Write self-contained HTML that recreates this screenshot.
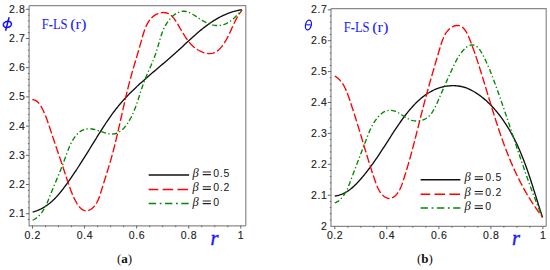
<!DOCTYPE html>
<html><head><meta charset="utf-8">
<style>
html,body{margin:0;padding:0;background:#fff;}
body{width:550px;height:270px;overflow:hidden;position:relative;}
svg{position:absolute;left:0;top:0;}
.tk{font-family:"Liberation Sans",sans-serif;font-size:10.5px;fill:#1a1a1a;letter-spacing:0.6px;stroke:#1a1a1a;stroke-width:0.12px;}
.lb{font-family:"Liberation Sans",sans-serif;font-size:10.5px;fill:#151515;letter-spacing:0.8px;}
.beta{font-family:"Liberation Serif",serif;font-style:italic;font-size:12.5px;fill:#151515;}
.ttl{font-family:"Liberation Serif",serif;font-size:14.6px;fill:#2020ff;stroke:#2020ff;stroke-width:0.06px;}
.ax{font-family:"Liberation Serif",serif;font-style:italic;fill:#1a1aff;}
.cap{font-family:"Liberation Serif",serif;font-size:13px;fill:#111;}
</style></head><body>
<svg width="550" height="270" viewBox="0 0 550 270">
<path d="M29.1,5.7 H245.8 V225.8" fill="none" stroke="#8a8a8a" stroke-width="1.2"/>
<path d="M29.1,5.7 V225.8 H245.8" fill="none" stroke="#8a8a8a" stroke-width="1.2"/>
<path d="M32.50,225.6v3.0 M45.52,225.6v1.6 M58.54,225.6v1.6 M71.56,225.6v1.6 M84.58,225.6v3.0 M97.59,225.6v1.6 M110.61,225.6v1.6 M123.63,225.6v1.6 M136.65,225.6v3.0 M149.67,225.6v1.6 M162.69,225.6v1.6 M175.71,225.6v1.6 M188.73,225.6v3.0 M201.74,225.6v1.6 M214.76,225.6v1.6 M227.78,225.6v1.6 M240.80,225.6v3.0 M29.3,9.30h-3.4 M29.3,15.14h-1.4 M29.3,20.98h-1.4 M29.3,26.82h-1.4 M29.3,32.66h-1.4 M29.3,38.50h-3.4 M29.3,44.34h-1.4 M29.3,50.18h-1.4 M29.3,56.02h-1.4 M29.3,61.86h-1.4 M29.3,67.70h-3.4 M29.3,73.54h-1.4 M29.3,79.38h-1.4 M29.3,85.22h-1.4 M29.3,91.06h-1.4 M29.3,96.90h-3.4 M29.3,102.74h-1.4 M29.3,108.58h-1.4 M29.3,114.42h-1.4 M29.3,120.26h-1.4 M29.3,126.10h-3.4 M29.3,131.94h-1.4 M29.3,137.78h-1.4 M29.3,143.62h-1.4 M29.3,149.46h-1.4 M29.3,155.30h-3.4 M29.3,161.14h-1.4 M29.3,166.98h-1.4 M29.3,172.82h-1.4 M29.3,178.66h-1.4 M29.3,184.50h-3.4 M29.3,190.34h-1.4 M29.3,196.18h-1.4 M29.3,202.02h-1.4 M29.3,207.86h-1.4 M29.3,213.70h-3.4 M29.3,219.54h-1.4" stroke="#666" stroke-width="1" fill="none"/>
<path d="M32.67,212.00 L34.18,211.59 L35.66,211.13 L37.09,210.61 L38.50,210.05 L39.87,209.45 L41.21,208.80 L42.52,208.10 L43.80,207.37 L45.05,206.60 L46.27,205.79 L47.47,204.95 L48.64,204.07 L49.79,203.16 L50.91,202.21 L52.01,201.24 L53.09,200.24 L54.15,199.22 L55.18,198.17 L56.20,197.10 L57.21,196.01 L58.19,194.89 L59.16,193.76 L60.12,192.62 L61.06,191.46 L62.00,190.29 L62.92,189.10 L63.83,187.91 L64.73,186.71 L65.62,185.50 L66.50,184.29 L67.38,183.07 L68.25,181.85 L69.12,180.63 L69.98,179.40 L70.84,178.18 L71.68,176.95 L72.53,175.71 L73.37,174.47 L74.20,173.23 L75.03,171.99 L75.86,170.75 L76.68,169.50 L77.50,168.25 L78.32,167.00 L79.13,165.74 L79.94,164.49 L80.74,163.23 L81.54,161.97 L82.34,160.71 L83.14,159.44 L83.94,158.18 L84.73,156.91 L85.52,155.64 L86.31,154.37 L87.10,153.10 L87.89,151.82 L88.68,150.55 L89.47,149.27 L90.25,147.99 L91.04,146.72 L91.83,145.44 L92.61,144.16 L93.40,142.88 L94.19,141.59 L94.98,140.31 L95.77,139.03 L96.56,137.75 L97.35,136.46 L98.15,135.18 L98.95,133.90 L99.75,132.63 L100.55,131.35 L101.36,130.08 L102.17,128.80 L102.98,127.54 L103.80,126.27 L104.63,125.01 L105.46,123.75 L106.29,122.50 L107.13,121.26 L107.98,120.01 L108.83,118.78 L109.69,117.55 L110.55,116.32 L111.42,115.11 L112.30,113.90 L113.19,112.69 L114.09,111.50 L114.99,110.31 L115.90,109.13 L116.83,107.96 L117.76,106.80 L118.70,105.65 L119.65,104.51 L120.61,103.38 L121.58,102.26 L122.56,101.15 L123.54,100.04 L124.54,98.95 L125.54,97.86 L126.56,96.78 L127.58,95.71 L128.61,94.65 L129.64,93.59 L130.69,92.55 L131.74,91.50 L132.79,90.47 L133.86,89.44 L134.93,88.41 L136.00,87.40 L137.08,86.38 L138.17,85.37 L139.26,84.37 L140.36,83.37 L141.46,82.38 L142.57,81.38 L143.67,80.40 L144.79,79.41 L145.91,78.43 L147.03,77.45 L148.15,76.48 L149.28,75.50 L150.41,74.53 L151.54,73.56 L152.67,72.59 L153.81,71.62 L154.95,70.65 L156.09,69.68 L157.23,68.72 L158.37,67.75 L159.51,66.78 L160.65,65.81 L161.79,64.84 L162.93,63.87 L164.07,62.90 L165.22,61.92 L166.36,60.95 L167.49,59.97 L168.63,58.99 L169.77,58.00 L170.90,57.01 L172.03,56.02 L173.16,55.03 L174.29,54.03 L175.41,53.02 L176.53,52.01 L177.65,51.00 L178.76,49.98 L179.88,48.96 L180.98,47.94 L182.09,46.91 L183.20,45.89 L184.31,44.86 L185.41,43.83 L186.52,42.81 L187.63,41.78 L188.73,40.76 L189.84,39.74 L190.95,38.73 L192.07,37.72 L193.18,36.71 L194.30,35.72 L195.43,34.72 L196.55,33.74 L197.68,32.76 L198.82,31.80 L199.96,30.84 L201.11,29.89 L202.26,28.96 L203.42,28.03 L204.59,27.12 L205.77,26.22 L206.95,25.34 L208.14,24.47 L209.34,23.62 L210.55,22.78 L211.77,21.96 L213.00,21.16 L214.24,20.37 L215.49,19.61 L216.75,18.86 L218.02,18.14 L219.31,17.43 L220.61,16.75 L221.92,16.09 L223.25,15.46 L224.59,14.85 L225.94,14.26 L227.31,13.70 L228.70,13.17 L230.10,12.66 L231.51,12.18 L232.95,11.73 L234.40,11.31 L235.86,10.92 L237.35,10.56 L238.85,10.23 L240.37,9.94 L241.92,9.67" fill="none" stroke="#111" stroke-width="1.35"/>
<path d="M32.37,99.48 L33.96,99.84 L35.38,100.40 L36.65,101.15 L37.78,102.05 L38.80,103.09 L39.71,104.24 L40.55,105.47 L41.31,106.76 L42.02,108.09 L42.70,109.44 L43.35,110.80 L43.97,112.16 L44.57,113.53 L45.15,114.91 L45.71,116.29 L46.25,117.68 L46.77,119.07 L47.28,120.47 L47.77,121.87 L48.26,123.28 L48.74,124.69 L49.21,126.11 L49.68,127.52 L50.15,128.94 L50.61,130.36 L51.08,131.78 L51.55,133.21 L52.02,134.63 L52.50,136.06 L52.97,137.48 L53.45,138.91 L53.93,140.33 L54.41,141.76 L54.89,143.19 L55.37,144.62 L55.85,146.05 L56.34,147.47 L56.82,148.90 L57.30,150.33 L57.79,151.76 L58.27,153.18 L58.75,154.61 L59.24,156.03 L59.72,157.46 L60.20,158.88 L60.68,160.30 L61.16,161.72 L61.64,163.14 L62.12,164.56 L62.59,165.98 L63.07,167.39 L63.54,168.80 L64.01,170.21 L64.48,171.62 L64.94,173.03 L65.40,174.43 L65.86,175.83 L66.32,177.23 L66.78,178.62 L67.23,180.02 L67.69,181.41 L68.15,182.80 L68.62,184.19 L69.10,185.58 L69.59,186.97 L70.09,188.36 L70.61,189.76 L71.14,191.15 L71.70,192.55 L72.28,193.95 L72.88,195.35 L73.51,196.76 L74.17,198.17 L74.86,199.58 L75.58,201.00 L76.34,202.41 L77.15,203.79 L78.01,205.11 L78.94,206.35 L79.93,207.50 L81.00,208.52 L82.14,209.40 L83.36,210.10 L84.62,210.58 L85.91,210.83 L87.21,210.80 L88.51,210.51 L89.78,209.98 L91.02,209.25 L92.20,208.36 L93.31,207.34 L94.34,206.22 L95.28,205.04 L96.13,203.80 L96.90,202.50 L97.59,201.17 L98.23,199.79 L98.81,198.38 L99.35,196.95 L99.85,195.50 L100.33,194.04 L100.78,192.57 L101.23,191.10 L101.68,189.63 L102.12,188.17 L102.57,186.72 L103.02,185.28 L103.47,183.84 L103.92,182.41 L104.36,180.98 L104.81,179.55 L105.26,178.13 L105.70,176.71 L106.15,175.30 L106.59,173.88 L107.03,172.47 L107.46,171.06 L107.90,169.65 L108.33,168.24 L108.76,166.83 L109.18,165.42 L109.60,164.01 L110.02,162.59 L110.43,161.18 L110.84,159.76 L111.24,158.33 L111.64,156.91 L112.04,155.48 L112.42,154.04 L112.81,152.61 L113.19,151.17 L113.57,149.72 L113.94,148.28 L114.31,146.83 L114.67,145.38 L115.03,143.93 L115.39,142.47 L115.75,141.01 L116.10,139.55 L116.45,138.09 L116.80,136.63 L117.14,135.17 L117.49,133.70 L117.83,132.23 L118.17,130.76 L118.50,129.29 L118.84,127.82 L119.18,126.35 L119.51,124.88 L119.84,123.41 L120.17,121.94 L120.50,120.46 L120.83,118.99 L121.16,117.52 L121.49,116.05 L121.82,114.57 L122.15,113.10 L122.48,111.63 L122.81,110.16 L123.14,108.69 L123.47,107.22 L123.81,105.75 L124.14,104.29 L124.48,102.82 L124.81,101.36 L125.15,99.89 L125.49,98.43 L125.83,96.98 L126.18,95.52 L126.52,94.06 L126.87,92.61 L127.22,91.16 L127.58,89.71 L127.94,88.27 L128.30,86.83 L128.66,85.39 L129.03,83.95 L129.40,82.52 L129.77,81.09 L130.15,79.67 L130.53,78.24 L130.92,76.82 L131.31,75.41 L131.71,74.00 L132.10,72.59 L132.51,71.18 L132.91,69.77 L133.32,68.36 L133.73,66.95 L134.14,65.54 L134.56,64.13 L134.98,62.72 L135.40,61.30 L135.82,59.88 L136.24,58.46 L136.67,57.03 L137.09,55.60 L137.51,54.16 L137.94,52.71 L138.37,51.26 L138.79,49.80 L139.22,48.33 L139.64,46.85 L140.06,45.36 L140.49,43.86 L140.91,42.35 L141.33,40.83 L141.75,39.30 L142.18,37.77 L142.61,36.24 L143.06,34.72 L143.53,33.21 L144.01,31.71 L144.52,30.24 L145.06,28.79 L145.63,27.37 L146.23,25.98 L146.87,24.64 L147.56,23.33 L148.29,22.08 L149.07,20.88 L149.90,19.74 L150.79,18.66 L151.75,17.65 L152.76,16.71 L153.85,15.85 L155.01,15.07 L156.24,14.38 L157.54,13.78 L158.89,13.28 L160.28,12.90 L161.69,12.65 L163.10,12.53 L164.49,12.55 L165.86,12.73 L167.17,13.08 L168.43,13.60 L169.62,14.29 L170.76,15.13 L171.84,16.10 L172.87,17.18 L173.85,18.37 L174.80,19.63 L175.71,20.96 L176.60,22.34 L177.45,23.74 L178.29,25.16 L179.12,26.57 L179.93,27.97 L180.73,29.36 L181.53,30.73 L182.33,32.08 L183.14,33.41 L183.94,34.72 L184.76,36.01 L185.59,37.27 L186.44,38.50 L187.30,39.70 L188.19,40.88 L189.10,42.02 L190.04,43.12 L191.01,44.19 L192.02,45.22 L193.07,46.21 L194.16,47.16 L195.30,48.06 L196.48,48.92 L197.72,49.73 L199.01,50.49 L200.35,51.19 L201.72,51.82 L203.12,52.37 L204.55,52.83 L205.99,53.19 L207.43,53.44 L208.87,53.58 L210.30,53.58 L211.71,53.44 L213.10,53.16 L214.45,52.71 L215.75,52.10 L217.00,51.31 L218.21,50.37 L219.35,49.30 L220.45,48.13 L221.50,46.89 L222.49,45.59 L223.42,44.28 L224.31,42.96 L225.15,41.64 L225.94,40.31 L226.69,38.98 L227.41,37.65 L228.10,36.32 L228.77,34.98 L229.41,33.65 L230.03,32.31 L230.64,30.98 L231.24,29.65 L231.83,28.31 L232.43,26.98 L233.03,25.66 L233.63,24.33 L234.25,23.01 L234.89,21.69 L235.54,20.38 L236.22,19.07 L236.93,17.77 L237.68,16.48 L238.46,15.19 L239.28,13.91 L240.15,12.63 L241.07,11.36 L242.05,10.11" fill="none" stroke="#f00" stroke-width="1.35" stroke-dasharray="8.2 2.6"/>
<path d="M32.67,220.24 L34.05,219.52 L35.35,218.73 L36.57,217.87 L37.72,216.94 L38.81,215.96 L39.83,214.91 L40.79,213.81 L41.70,212.66 L42.56,211.47 L43.37,210.23 L44.13,208.96 L44.86,207.66 L45.55,206.32 L46.21,204.96 L46.85,203.58 L47.46,202.18 L48.05,200.77 L48.63,199.35 L49.19,197.93 L49.75,196.50 L50.31,195.08 L50.87,193.67 L51.43,192.26 L51.99,190.86 L52.56,189.47 L53.13,188.09 L53.70,186.71 L54.27,185.34 L54.84,183.97 L55.41,182.60 L55.98,181.24 L56.55,179.87 L57.12,178.51 L57.68,177.15 L58.25,175.79 L58.81,174.42 L59.38,173.06 L59.93,171.69 L60.49,170.32 L61.04,168.94 L61.59,167.55 L62.13,166.16 L62.67,164.77 L63.21,163.36 L63.74,161.95 L64.26,160.53 L64.78,159.10 L65.29,157.66 L65.81,156.21 L66.33,154.76 L66.85,153.32 L67.39,151.87 L67.94,150.43 L68.51,149.00 L69.10,147.57 L69.71,146.16 L70.35,144.76 L71.02,143.38 L71.72,142.02 L72.46,140.68 L73.24,139.37 L74.07,138.08 L74.93,136.84 L75.85,135.64 L76.81,134.51 L77.83,133.46 L78.90,132.50 L80.02,131.64 L81.19,130.90 L82.42,130.26 L83.68,129.74 L85.00,129.32 L86.35,129.03 L87.73,128.85 L89.15,128.78 L90.59,128.84 L92.06,129.01 L93.56,129.28 L95.07,129.64 L96.60,130.06 L98.14,130.53 L99.69,131.04 L101.25,131.56 L102.80,132.08 L104.34,132.57 L105.88,133.02 L107.39,133.41 L108.88,133.72 L110.34,133.93 L111.77,134.02 L113.16,133.98 L114.50,133.80 L115.81,133.48 L117.07,133.03 L118.30,132.47 L119.48,131.80 L120.62,131.03 L121.73,130.16 L122.79,129.20 L123.82,128.17 L124.81,127.06 L125.77,125.90 L126.68,124.67 L127.57,123.40 L128.41,122.09 L129.23,120.75 L130.00,119.38 L130.75,118.00 L131.46,116.61 L132.14,115.22 L132.79,113.82 L133.41,112.42 L134.01,111.02 L134.58,109.62 L135.13,108.21 L135.66,106.81 L136.17,105.40 L136.67,103.99 L137.16,102.58 L137.63,101.17 L138.09,99.76 L138.55,98.35 L139.00,96.94 L139.45,95.53 L139.89,94.12 L140.34,92.71 L140.79,91.30 L141.24,89.90 L141.70,88.49 L142.17,87.09 L142.66,85.69 L143.15,84.29 L143.66,82.90 L144.19,81.51 L144.73,80.12 L145.29,78.73 L145.86,77.35 L146.44,75.96 L147.03,74.58 L147.63,73.20 L148.23,71.82 L148.84,70.44 L149.45,69.05 L150.06,67.67 L150.66,66.28 L151.26,64.90 L151.86,63.51 L152.45,62.11 L153.03,60.72 L153.60,59.32 L154.15,57.91 L154.69,56.50 L155.22,55.09 L155.72,53.67 L156.21,52.24 L156.67,50.81 L157.11,49.37 L157.54,47.92 L157.96,46.48 L158.37,45.03 L158.77,43.58 L159.18,42.14 L159.59,40.69 L160.00,39.25 L160.43,37.82 L160.88,36.39 L161.35,34.97 L161.84,33.56 L162.35,32.15 L162.90,30.77 L163.49,29.39 L164.11,28.03 L164.78,26.68 L165.50,25.35 L166.26,24.04 L167.08,22.75 L167.97,21.48 L168.91,20.24 L169.90,19.03 L170.95,17.88 L172.04,16.77 L173.18,15.74 L174.35,14.79 L175.56,13.93 L176.80,13.16 L178.06,12.51 L179.34,11.98 L180.64,11.58 L181.95,11.33 L183.26,11.23 L184.58,11.28 L185.91,11.49 L187.23,11.83 L188.56,12.29 L189.90,12.85 L191.23,13.51 L192.57,14.24 L193.92,15.04 L195.27,15.89 L196.62,16.76 L197.98,17.66 L199.35,18.57 L200.72,19.47 L202.09,20.34 L203.47,21.18 L204.86,21.97 L206.25,22.69 L207.65,23.33 L209.06,23.90 L210.46,24.39 L211.87,24.79 L213.28,25.11 L214.68,25.35 L216.08,25.49 L217.48,25.55 L218.87,25.51 L220.26,25.37 L221.63,25.14 L223.00,24.80 L224.35,24.37 L225.69,23.83 L227.02,23.19 L228.33,22.45 L229.61,21.62 L230.88,20.72 L232.12,19.76 L233.34,18.74 L234.53,17.68 L235.69,16.59 L236.81,15.48 L237.90,14.36 L238.95,13.24 L239.97,12.14 L240.94,11.06 L241.86,10.02" fill="none" stroke="#080" stroke-width="1.35" stroke-dasharray="5.1 2.4 1.3 2.5"/>
<path d="M148.7,175.0H189.1" stroke="#111" stroke-width="1.5" stroke-dasharray="none" stroke-dashoffset="0.0"/>
<path d="M148.7,189.5H189.1" stroke="#f00" stroke-width="1.5" stroke-dasharray="10.6 4.3" stroke-dashoffset="1.0"/>
<path d="M148.7,203.4H189.1" stroke="#080" stroke-width="1.5" stroke-dasharray="7.4 3.6 1.8 3.5" stroke-dashoffset="0.0"/>
<text x="192.4" y="176.8" class="beta">&#946;</text>
<path d="M202.7,172.05H210.9M202.7,174.65H210.9" stroke="#222" stroke-width="1.1"/>
<text x="213.2" y="176.8" class="lb">0.5</text>
<text x="192.4" y="191.4" class="beta">&#946;</text>
<path d="M202.7,186.75H210.9M202.7,189.35H210.9" stroke="#222" stroke-width="1.1"/>
<text x="213.2" y="191.4" class="lb">0.2</text>
<text x="192.4" y="205.8" class="beta">&#946;</text>
<path d="M202.7,201.05H210.9M202.7,203.65H210.9" stroke="#222" stroke-width="1.1"/>
<text x="213.2" y="205.8" class="lb">0</text>
<text x="25.5" y="12.8" class="tk" text-anchor="end">2.8</text>
<text x="25.5" y="42.0" class="tk" text-anchor="end">2.7</text>
<text x="25.5" y="71.2" class="tk" text-anchor="end">2.6</text>
<text x="25.5" y="100.4" class="tk" text-anchor="end">2.5</text>
<text x="25.5" y="129.5" class="tk" text-anchor="end">2.4</text>
<text x="25.5" y="158.7" class="tk" text-anchor="end">2.3</text>
<text x="25.5" y="187.9" class="tk" text-anchor="end">2.2</text>
<text x="25.5" y="217.0" class="tk" text-anchor="end">2.1</text>
<text x="32.8" y="238.8" class="tk" text-anchor="middle">0.2</text>
<text x="84.9" y="238.8" class="tk" text-anchor="middle">0.4</text>
<text x="137.0" y="238.8" class="tk" text-anchor="middle">0.6</text>
<text x="189.0" y="238.8" class="tk" text-anchor="middle">0.8</text>
<text x="241.1" y="238.8" class="tk" text-anchor="middle">1</text>
<path d="M331.0,8.6 H546.2 V226.3" fill="none" stroke="#8a8a8a" stroke-width="1.2"/>
<path d="M331.0,8.6 V226.3 H546.2" fill="none" stroke="#8a8a8a" stroke-width="1.2"/>
<path d="M334.80,226.1v3.0 M347.81,226.1v1.6 M360.81,226.1v1.6 M373.82,226.1v1.6 M386.82,226.1v3.0 M399.83,226.1v1.6 M412.84,226.1v1.6 M425.84,226.1v1.6 M438.85,226.1v3.0 M451.86,226.1v1.6 M464.86,226.1v1.6 M477.87,226.1v1.6 M490.88,226.1v3.0 M503.88,226.1v1.6 M516.89,226.1v1.6 M529.89,226.1v1.6 M542.90,226.1v3.0 M331.2,9.80h-3.4 M331.2,15.98h-1.4 M331.2,22.16h-1.4 M331.2,28.34h-1.4 M331.2,34.52h-1.4 M331.2,40.70h-3.4 M331.2,46.88h-1.4 M331.2,53.06h-1.4 M331.2,59.24h-1.4 M331.2,65.42h-1.4 M331.2,71.60h-3.4 M331.2,77.78h-1.4 M331.2,83.96h-1.4 M331.2,90.14h-1.4 M331.2,96.32h-1.4 M331.2,102.50h-3.4 M331.2,108.68h-1.4 M331.2,114.86h-1.4 M331.2,121.04h-1.4 M331.2,127.22h-1.4 M331.2,133.40h-3.4 M331.2,139.58h-1.4 M331.2,145.76h-1.4 M331.2,151.94h-1.4 M331.2,158.12h-1.4 M331.2,164.30h-3.4 M331.2,170.48h-1.4 M331.2,176.66h-1.4 M331.2,182.84h-1.4 M331.2,189.02h-1.4 M331.2,195.20h-3.4 M331.2,201.38h-1.4 M331.2,207.56h-1.4 M331.2,213.74h-1.4 M331.2,219.92h-1.4" stroke="#666" stroke-width="1" fill="none"/>
<path d="M334.72,195.99 L336.25,195.80 L337.74,195.52 L339.19,195.16 L340.61,194.72 L342.00,194.20 L343.35,193.61 L344.68,192.96 L345.97,192.24 L347.24,191.47 L348.48,190.64 L349.69,189.76 L350.88,188.84 L352.04,187.88 L353.18,186.88 L354.30,185.84 L355.39,184.78 L356.47,183.70 L357.52,182.59 L358.56,181.47 L359.59,180.34 L360.59,179.20 L361.59,178.06 L362.57,176.91 L363.53,175.76 L364.48,174.61 L365.42,173.45 L366.35,172.29 L367.26,171.12 L368.17,169.95 L369.06,168.77 L369.95,167.59 L370.82,166.41 L371.69,165.22 L372.55,164.03 L373.40,162.84 L374.24,161.64 L375.08,160.44 L375.91,159.24 L376.73,158.03 L377.55,156.82 L378.37,155.60 L379.18,154.38 L379.99,153.16 L380.79,151.94 L381.59,150.71 L382.39,149.48 L383.19,148.24 L383.99,147.01 L384.79,145.77 L385.58,144.53 L386.38,143.28 L387.18,142.03 L387.98,140.78 L388.79,139.53 L389.59,138.27 L390.40,137.01 L391.22,135.75 L392.04,134.48 L392.86,133.22 L393.69,131.95 L394.52,130.68 L395.37,129.40 L396.21,128.13 L397.07,126.85 L397.93,125.57 L398.80,124.30 L399.68,123.03 L400.57,121.76 L401.47,120.49 L402.37,119.23 L403.29,117.98 L404.21,116.74 L405.15,115.50 L406.09,114.28 L407.05,113.06 L408.01,111.86 L408.99,110.67 L409.98,109.49 L410.98,108.33 L411.99,107.19 L413.02,106.07 L414.05,104.96 L415.10,103.87 L416.17,102.80 L417.24,101.76 L418.33,100.74 L419.43,99.74 L420.55,98.76 L421.69,97.81 L422.83,96.89 L424.00,96.00 L425.17,95.14 L426.37,94.30 L427.58,93.50 L428.80,92.73 L430.05,92.00 L431.31,91.30 L432.58,90.63 L433.88,90.00 L435.19,89.41 L436.52,88.86 L437.87,88.35 L439.24,87.88 L440.62,87.45 L442.03,87.06 L443.45,86.72 L444.90,86.42 L446.36,86.17 L447.84,85.97 L449.33,85.82 L450.82,85.72 L452.33,85.66 L453.83,85.67 L455.34,85.72 L456.84,85.83 L458.33,86.00 L459.82,86.23 L461.28,86.51 L462.74,86.86 L464.17,87.26 L465.58,87.72 L466.98,88.24 L468.36,88.80 L469.72,89.41 L471.06,90.07 L472.39,90.76 L473.70,91.50 L474.99,92.26 L476.26,93.06 L477.51,93.89 L478.75,94.74 L479.98,95.62 L481.18,96.52 L482.37,97.45 L483.54,98.39 L484.69,99.36 L485.83,100.35 L486.95,101.36 L488.06,102.39 L489.15,103.44 L490.22,104.50 L491.28,105.58 L492.32,106.68 L493.35,107.80 L494.36,108.92 L495.35,110.07 L496.33,111.22 L497.29,112.39 L498.24,113.57 L499.18,114.76 L500.09,115.96 L501.00,117.17 L501.89,118.39 L502.76,119.62 L503.62,120.85 L504.46,122.09 L505.29,123.34 L506.11,124.60 L506.91,125.86 L507.70,127.13 L508.48,128.40 L509.24,129.68 L509.99,130.97 L510.73,132.26 L511.45,133.56 L512.17,134.86 L512.87,136.17 L513.56,137.49 L514.24,138.81 L514.91,140.14 L515.57,141.47 L516.22,142.81 L516.86,144.15 L517.49,145.49 L518.11,146.84 L518.72,148.20 L519.32,149.56 L519.91,150.92 L520.49,152.29 L521.07,153.66 L521.63,155.04 L522.19,156.42 L522.75,157.80 L523.29,159.19 L523.83,160.58 L524.36,161.97 L524.88,163.37 L525.40,164.77 L525.91,166.17 L526.42,167.57 L526.92,168.98 L527.42,170.39 L527.91,171.80 L528.40,173.22 L528.88,174.64 L529.36,176.06 L529.83,177.48 L530.30,178.90 L530.77,180.32 L531.23,181.75 L531.69,183.18 L532.15,184.60 L532.61,186.03 L533.06,187.46 L533.51,188.90 L533.96,190.33 L534.41,191.76 L534.86,193.19 L535.31,194.63 L535.76,196.06 L536.20,197.49 L536.65,198.93 L537.10,200.36 L537.54,201.80 L537.99,203.23 L538.44,204.66 L538.89,206.09 L539.34,207.52 L539.80,208.96 L540.25,210.38 L540.71,211.81 L541.17,213.24 L541.63,214.67 L542.10,216.09 L542.57,217.51" fill="none" stroke="#111" stroke-width="1.35"/>
<path d="M334.80,75.99 L336.10,76.85 L337.32,77.77 L338.45,78.75 L339.51,79.79 L340.50,80.87 L341.42,82.00 L342.29,83.18 L343.09,84.39 L343.84,85.65 L344.55,86.94 L345.21,88.25 L345.83,89.60 L346.43,90.97 L346.99,92.35 L347.53,93.76 L348.04,95.18 L348.55,96.60 L349.04,98.04 L349.53,99.47 L350.02,100.91 L350.50,102.35 L350.98,103.79 L351.46,105.23 L351.93,106.67 L352.40,108.11 L352.87,109.55 L353.34,110.99 L353.80,112.43 L354.26,113.87 L354.72,115.31 L355.17,116.75 L355.63,118.19 L356.08,119.63 L356.53,121.06 L356.97,122.50 L357.42,123.94 L357.86,125.37 L358.30,126.80 L358.74,128.23 L359.17,129.66 L359.61,131.09 L360.04,132.51 L360.47,133.94 L360.90,135.36 L361.32,136.78 L361.75,138.19 L362.17,139.61 L362.59,141.02 L363.01,142.43 L363.43,143.84 L363.85,145.25 L364.28,146.66 L364.70,148.06 L365.12,149.47 L365.54,150.88 L365.97,152.29 L366.39,153.70 L366.82,155.11 L367.25,156.52 L367.68,157.93 L368.12,159.35 L368.55,160.76 L369.00,162.18 L369.44,163.61 L369.89,165.03 L370.34,166.46 L370.80,167.90 L371.26,169.34 L371.73,170.78 L372.21,172.22 L372.68,173.68 L373.17,175.13 L373.66,176.60 L374.16,178.07 L374.66,179.54 L375.18,181.02 L375.70,182.51 L376.24,183.99 L376.80,185.46 L377.39,186.90 L378.02,188.32 L378.71,189.69 L379.44,191.01 L380.25,192.27 L381.12,193.46 L382.07,194.56 L383.11,195.58 L384.24,196.50 L385.47,197.30 L386.76,197.93 L388.09,198.34 L389.43,198.48 L390.75,198.32 L392.05,197.89 L393.30,197.23 L394.48,196.39 L395.59,195.42 L396.60,194.35 L397.52,193.22 L398.36,192.03 L399.12,190.78 L399.82,189.49 L400.45,188.15 L401.04,186.78 L401.59,185.38 L402.11,183.96 L402.60,182.52 L403.08,181.08 L403.56,179.63 L404.03,178.18 L404.49,176.74 L404.95,175.29 L405.40,173.84 L405.85,172.39 L406.29,170.94 L406.73,169.49 L407.16,168.04 L407.59,166.58 L408.02,165.13 L408.44,163.68 L408.86,162.22 L409.27,160.77 L409.68,159.32 L410.09,157.86 L410.49,156.41 L410.89,154.95 L411.29,153.50 L411.68,152.04 L412.07,150.59 L412.46,149.13 L412.84,147.68 L413.23,146.22 L413.61,144.77 L413.99,143.31 L414.37,141.86 L414.74,140.40 L415.11,138.95 L415.49,137.49 L415.86,136.04 L416.23,134.59 L416.59,133.14 L416.96,131.68 L417.33,130.23 L417.69,128.78 L418.06,127.33 L418.42,125.88 L418.79,124.44 L419.15,122.99 L419.51,121.54 L419.88,120.10 L420.24,118.65 L420.61,117.21 L420.97,115.76 L421.34,114.32 L421.71,112.88 L422.07,111.44 L422.44,110.01 L422.81,108.57 L423.18,107.13 L423.56,105.70 L423.93,104.27 L424.31,102.83 L424.68,101.40 L425.06,99.98 L425.45,98.55 L425.83,97.12 L426.22,95.70 L426.60,94.27 L426.99,92.85 L427.38,91.42 L427.78,90.00 L428.17,88.58 L428.57,87.15 L428.97,85.73 L429.37,84.30 L429.77,82.87 L430.18,81.45 L430.59,80.02 L431.00,78.58 L431.41,77.15 L431.82,75.72 L432.23,74.28 L432.65,72.84 L433.07,71.40 L433.49,69.95 L433.91,68.50 L434.33,67.05 L434.76,65.60 L435.18,64.14 L435.61,62.68 L436.04,61.21 L436.47,59.74 L436.91,58.26 L437.34,56.78 L437.78,55.30 L438.22,53.81 L438.66,52.32 L439.10,50.81 L439.55,49.31 L439.99,47.80 L440.45,46.29 L440.91,44.78 L441.39,43.29 L441.89,41.81 L442.42,40.35 L442.97,38.93 L443.56,37.54 L444.19,36.19 L444.87,34.88 L445.59,33.63 L446.37,32.44 L447.20,31.31 L448.10,30.25 L449.07,29.26 L450.11,28.36 L451.23,27.54 L452.43,26.81 L453.70,26.20 L455.03,25.74 L456.39,25.49 L457.76,25.47 L459.09,25.69 L460.38,26.12 L461.58,26.73 L462.69,27.53 L463.71,28.47 L464.65,29.55 L465.52,30.75 L466.32,32.05 L467.07,33.42 L467.77,34.86 L468.44,36.34 L469.07,37.84 L469.68,39.35 L470.27,40.85 L470.85,42.33 L471.42,43.81 L471.97,45.27 L472.51,46.73 L473.04,48.18 L473.56,49.61 L474.07,51.05 L474.57,52.47 L475.06,53.89 L475.54,55.31 L476.02,56.72 L476.49,58.13 L476.96,59.53 L477.42,60.94 L477.87,62.34 L478.33,63.75 L478.78,65.15 L479.23,66.56 L479.67,67.97 L480.12,69.38 L480.56,70.79 L481.00,72.21 L481.44,73.62 L481.88,75.04 L482.32,76.46 L482.75,77.88 L483.19,79.30 L483.63,80.72 L484.06,82.15 L484.49,83.57 L484.93,85.00 L485.36,86.43 L485.79,87.85 L486.23,89.28 L486.66,90.71 L487.09,92.14 L487.52,93.57 L487.96,95.01 L488.39,96.44 L488.83,97.87 L489.26,99.30 L489.70,100.74 L490.13,102.17 L490.57,103.60 L491.01,105.04 L491.45,106.47 L491.89,107.90 L492.34,109.34 L492.78,110.77 L493.23,112.20 L493.68,113.63 L494.13,115.07 L494.58,116.50 L495.03,117.93 L495.49,119.36 L495.95,120.79 L496.41,122.22 L496.87,123.65 L497.34,125.07 L497.81,126.50 L498.28,127.93 L498.76,129.35 L499.24,130.77 L499.72,132.19 L500.21,133.61 L500.70,135.03 L501.19,136.45 L501.69,137.87 L502.19,139.28 L502.69,140.69 L503.20,142.11 L503.72,143.51 L504.23,144.92 L504.76,146.33 L505.28,147.73 L505.81,149.13 L506.35,150.53 L506.89,151.93 L507.44,153.32 L507.99,154.72 L508.54,156.11 L509.11,157.49 L509.67,158.88 L510.25,160.26 L510.82,161.64 L511.41,163.02 L512.00,164.39 L512.60,165.76 L513.20,167.13 L513.81,168.50 L514.42,169.86 L515.04,171.22 L515.67,172.57 L516.31,173.93 L516.95,175.27 L517.60,176.62 L518.26,177.96 L518.92,179.30 L519.59,180.63 L520.27,181.97 L520.95,183.29 L521.65,184.62 L522.35,185.94 L523.06,187.25 L523.77,188.56 L524.50,189.87 L525.23,191.17 L525.97,192.47 L526.72,193.76 L527.48,195.05 L528.25,196.34 L529.03,197.62 L529.81,198.90 L530.60,200.17 L531.41,201.44 L532.22,202.70 L533.04,203.95 L533.87,205.21 L534.71,206.45 L535.56,207.69 L536.43,208.93 L537.30,210.16 L538.18,211.39 L539.07,212.61 L539.97,213.82 L540.88,215.03 L541.80,216.24 L542.73,217.44" fill="none" stroke="#f00" stroke-width="1.35" stroke-dasharray="8.2 2.6"/>
<path d="M334.76,202.93 L336.11,202.39 L337.39,201.71 L338.60,200.90 L339.74,199.97 L340.82,198.96 L341.83,197.86 L342.77,196.70 L343.66,195.49 L344.48,194.24 L345.25,192.97 L345.97,191.67 L346.65,190.34 L347.29,188.99 L347.90,187.62 L348.48,186.24 L349.04,184.85 L349.59,183.45 L350.12,182.05 L350.64,180.64 L351.17,179.24 L351.70,177.83 L352.22,176.43 L352.75,175.03 L353.27,173.63 L353.80,172.24 L354.33,170.84 L354.85,169.45 L355.38,168.05 L355.90,166.66 L356.43,165.27 L356.96,163.87 L357.49,162.48 L358.01,161.09 L358.54,159.70 L359.07,158.31 L359.60,156.91 L360.13,155.52 L360.66,154.13 L361.19,152.74 L361.72,151.34 L362.25,149.95 L362.79,148.55 L363.32,147.16 L363.86,145.76 L364.39,144.36 L364.93,142.96 L365.47,141.55 L366.01,140.15 L366.55,138.74 L367.09,137.34 L367.64,135.93 L368.19,134.53 L368.76,133.13 L369.34,131.74 L369.95,130.35 L370.57,128.98 L371.22,127.62 L371.89,126.28 L372.60,124.95 L373.33,123.65 L374.11,122.36 L374.93,121.10 L375.79,119.86 L376.70,118.65 L377.65,117.48 L378.66,116.33 L379.72,115.24 L380.83,114.21 L381.98,113.27 L383.18,112.43 L384.43,111.70 L385.71,111.10 L387.04,110.65 L388.40,110.36 L389.81,110.25 L391.24,110.32 L392.68,110.55 L394.13,110.93 L395.57,111.44 L396.98,112.06 L398.37,112.78 L399.74,113.56 L401.08,114.40 L402.39,115.26 L403.70,116.14 L405.00,117.00 L406.31,117.82 L407.63,118.59 L408.98,119.28 L410.36,119.87 L411.77,120.33 L413.19,120.69 L414.63,120.92 L416.08,121.04 L417.52,121.04 L418.95,120.93 L420.36,120.71 L421.74,120.38 L423.08,119.94 L424.38,119.39 L425.63,118.74 L426.82,117.97 L427.94,117.11 L428.99,116.15 L429.99,115.10 L430.94,113.98 L431.84,112.78 L432.69,111.52 L433.49,110.21 L434.26,108.85 L435.00,107.45 L435.71,106.03 L436.39,104.58 L437.05,103.12 L437.69,101.65 L438.32,100.19 L438.94,98.74 L439.55,97.31 L440.16,95.89 L440.77,94.49 L441.37,93.11 L441.97,91.74 L442.57,90.39 L443.16,89.04 L443.75,87.70 L444.35,86.38 L444.94,85.06 L445.53,83.74 L446.12,82.43 L446.71,81.11 L447.30,79.80 L447.90,78.49 L448.49,77.17 L449.09,75.85 L449.70,74.53 L450.30,73.19 L450.91,71.85 L451.53,70.49 L452.15,69.13 L452.77,67.75 L453.41,66.36 L454.06,64.97 L454.72,63.58 L455.41,62.20 L456.11,60.82 L456.85,59.45 L457.61,58.10 L458.40,56.77 L459.23,55.46 L460.10,54.18 L461.01,52.94 L461.97,51.72 L462.97,50.55 L464.03,49.42 L465.14,48.34 L466.30,47.36 L467.50,46.49 L468.74,45.79 L470.01,45.28 L471.30,44.98 L472.59,44.92 L473.85,45.10 L475.06,45.52 L476.22,46.15 L477.32,46.99 L478.33,47.99 L479.28,49.13 L480.17,50.39 L481.01,51.73 L481.81,53.11 L482.58,54.52 L483.32,55.93 L484.04,57.33 L484.74,58.73 L485.42,60.12 L486.09,61.52 L486.73,62.91 L487.36,64.30 L487.97,65.69 L488.57,67.07 L489.15,68.46 L489.72,69.84 L490.28,71.22 L490.84,72.61 L491.38,73.99 L491.91,75.37 L492.44,76.76 L492.97,78.14 L493.49,79.53 L494.01,80.91 L494.52,82.30 L495.04,83.69 L495.55,85.09 L496.06,86.48 L496.56,87.87 L497.07,89.27 L497.57,90.67 L498.07,92.07 L498.57,93.47 L499.07,94.87 L499.56,96.27 L500.06,97.67 L500.55,99.08 L501.04,100.48 L501.53,101.89 L502.02,103.30 L502.50,104.71 L502.99,106.12 L503.47,107.53 L503.95,108.94 L504.44,110.35 L504.92,111.77 L505.40,113.18 L505.87,114.60 L506.35,116.01 L506.83,117.43 L507.30,118.85 L507.78,120.26 L508.26,121.68 L508.73,123.10 L509.20,124.52 L509.68,125.94 L510.15,127.36 L510.62,128.78 L511.09,130.20 L511.57,131.62 L512.04,133.04 L512.51,134.46 L512.98,135.88 L513.46,137.31 L513.93,138.73 L514.40,140.15 L514.87,141.57 L515.35,142.99 L515.82,144.42 L516.29,145.84 L516.77,147.26 L517.24,148.68 L517.72,150.10 L518.20,151.52 L518.67,152.95 L519.15,154.37 L519.63,155.79 L520.11,157.21 L520.59,158.63 L521.07,160.05 L521.55,161.47 L522.04,162.89 L522.52,164.30 L523.01,165.72 L523.50,167.14 L523.99,168.55 L524.48,169.97 L524.97,171.38 L525.47,172.80 L525.96,174.21 L526.46,175.63 L526.96,177.04 L527.46,178.45 L527.96,179.86 L528.47,181.27 L528.98,182.68 L529.49,184.08 L530.00,185.49 L530.51,186.89 L531.03,188.30 L531.55,189.70 L532.07,191.10 L532.59,192.50 L533.12,193.90 L533.65,195.30 L534.18,196.69 L534.71,198.09 L535.25,199.48 L535.79,200.88 L536.33,202.27 L536.88,203.65 L537.43,205.04 L537.98,206.43 L538.53,207.81 L539.09,209.20 L539.65,210.58 L540.22,211.96 L540.79,213.33 L541.36,214.71 L541.94,216.08 L542.52,217.45" fill="none" stroke="#080" stroke-width="1.35" stroke-dasharray="5.1 2.4 1.3 2.5"/>
<path d="M420.6,179.7H460.4" stroke="#111" stroke-width="1.5" stroke-dasharray="none" stroke-dashoffset="0.0"/>
<path d="M420.6,194.2H460.4" stroke="#f00" stroke-width="1.5" stroke-dasharray="10.6 4.3" stroke-dashoffset="1.0"/>
<path d="M420.6,208.1H460.4" stroke="#080" stroke-width="1.5" stroke-dasharray="7.4 3.6 1.8 3.5" stroke-dashoffset="0.0"/>
<text x="464.4" y="181.4" class="beta">&#946;</text>
<path d="M474.7,176.75H482.9M474.7,179.35H482.9" stroke="#222" stroke-width="1.1"/>
<text x="485.2" y="181.4" class="lb">0.5</text>
<text x="464.4" y="196.1" class="beta">&#946;</text>
<path d="M474.7,191.45H482.9M474.7,194.05H482.9" stroke="#222" stroke-width="1.1"/>
<text x="485.2" y="196.1" class="lb">0.2</text>
<text x="464.4" y="210.4" class="beta">&#946;</text>
<path d="M474.7,205.75H482.9M474.7,208.35H482.9" stroke="#222" stroke-width="1.1"/>
<text x="485.2" y="210.4" class="lb">0</text>
<text x="327.4" y="13.3" class="tk" text-anchor="end">2.7</text>
<text x="327.4" y="44.2" class="tk" text-anchor="end">2.6</text>
<text x="327.4" y="75.1" class="tk" text-anchor="end">2.5</text>
<text x="327.4" y="106.0" class="tk" text-anchor="end">2.4</text>
<text x="327.4" y="136.9" class="tk" text-anchor="end">2.3</text>
<text x="327.4" y="167.8" class="tk" text-anchor="end">2.2</text>
<text x="327.4" y="198.7" class="tk" text-anchor="end">2.1</text>
<text x="327.4" y="229.6" class="tk" text-anchor="end">2</text>
<text x="335.1" y="239.3" class="tk" text-anchor="middle">0.2</text>
<text x="387.1" y="239.3" class="tk" text-anchor="middle">0.4</text>
<text x="439.2" y="239.3" class="tk" text-anchor="middle">0.6</text>
<text x="491.2" y="239.3" class="tk" text-anchor="middle">0.8</text>
<text x="543.2" y="239.3" class="tk" text-anchor="middle">1</text>
<text x="41.8" y="28.6" class="ttl" textLength="25.8" lengthAdjust="spacingAndGlyphs">F-LS</text><text x="70.2" y="28.6" class="ttl" textLength="16.3" lengthAdjust="spacingAndGlyphs">(r)</text>
<text x="343.8" y="31.7" class="ttl" textLength="25.8" lengthAdjust="spacingAndGlyphs">F-LS</text><text x="372.2" y="31.7" class="ttl" textLength="16.3" lengthAdjust="spacingAndGlyphs">(r)</text>
<g stroke="#1010ff" fill="none" stroke-width="1.5"><ellipse cx="7.4" cy="24.4" rx="4.1" ry="3.05" transform="rotate(-15 7.4 24.4)"/><path d="M9.1,17.3L5.6,30.8"/></g>
<g stroke="#1414ff" fill="none" stroke-width="1.35"><ellipse cx="308.4" cy="25" rx="2.85" ry="4.95" transform="rotate(14 308.4 25)"/><path d="M306.2,24.8H310.5" stroke-width="1.1"/></g>
<text x="210.6" y="245" class="ax" font-size="20.5" stroke="#1a1aff" stroke-width="0.4">r</text>
<text x="511.9" y="244.6" class="ax" font-size="20.5" stroke="#1a1aff" stroke-width="0.4">r</text>
<text x="117" y="263.1" class="cap">(<tspan font-weight="bold">a</tspan>)</text>
<text x="417" y="263.1" class="cap">(<tspan font-weight="bold">b</tspan>)</text>
</svg>
</body></html>
